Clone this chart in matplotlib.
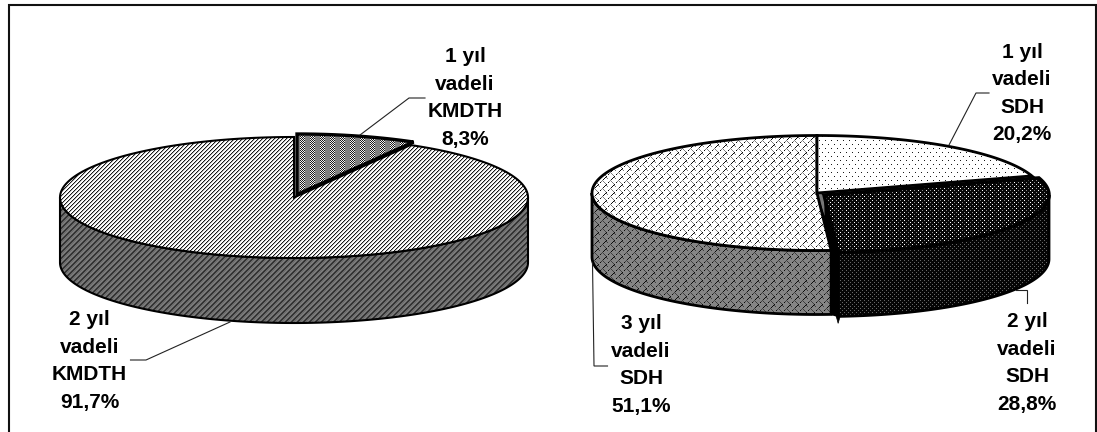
from matplotlib import pyplot as plt
from matplotlib.patches import Polygon
import numpy as np

# share of each maturity, going clockwise from the top of the pie
kmdth_names = ["1 yıl", "2 yıl"]
kmdth_shares = [8.3, 91.7]
sdh_names = ["1 yıl", "2 yıl", "3 yıl"]
sdh_shares = [20.2, 28.8, 51.1]

W = 1097
H = 432

plt.rcParams['font.family'] = ['Liberation Sans', 'DejaVu Sans']

fig = plt.figure(figsize=(W / 100, H / 100), dpi=100)
ax = fig.add_axes([0, 0, 1, 1])
ax.set_xlim(0, W)
ax.set_ylim(H, 0)
ax.axis('off')


def make_tile(rows, shades):
    return np.array([[shades[c] for c in r] for r in rows], dtype=float)


def repeat_tile(tile):
    ny = H // tile.shape[0] + 1
    nx = W // tile.shape[1] + 1
    return np.tile(tile, (ny, nx))[:H, :W]


diag_light = make_tile(["#g..", "g..#", "..#g", ".#g."],
                       {'#': 0.1, 'g': 0.7, '.': 1.0})
diag_dark = make_tile(["##mmlm", "#mmlm#", "mmlm##", "mlm##m", "lm##mm", "m##mml"],
                      {'#': 0.2, 'm': 0.42, 'l': 0.5})
stripes = make_tile(["#.#.#ggggg", ".#.#.ggggg"],
                    {'#': 0.1, '.': 0.95, 'g': 0.5})
dots_white = make_tile(["#.....", "......", "......", "......",
                        "...#..", "......", "......", "......"],
                       {'#': 0.1, '.': 1.0})
dots_dark = make_tile(["w...g...", "........", "..g...w.", "........"],
                      {'w': 1.0, 'g': 0.55, '.': 0.03})
dots_black = make_tile(["g...", "....", "..g.", "...."],
                       {'g': 0.4, '.': 0.02})
weave_rows = ["......#.", ".....#g.", "....#..g", "...#....",
              "..g.....", ".g.g....", "#...g...", ".....g.."]
weave_white = make_tile(weave_rows, {'#': 0.05, 'g': 0.5, '.': 1.0})
weave_gray = make_tile(weave_rows, {'#': 0.05, 'g': 0.25, '.': 0.52})


def top_points(cx, cy, rx, ry, t0, t1):
    t = np.radians(np.linspace(t0, t1, 200))
    return np.column_stack([cx + rx * np.sin(t), cy - ry * np.cos(t)])


def fill_shape(points, tile, lw=1.5, z=1):
    img = ax.imshow(repeat_tile(tile), cmap='gray', vmin=0, vmax=1, extent=(0, W, H, 0),
                    interpolation='nearest', aspect='auto', zorder=z)
    patch = Polygon(points, closed=True, facecolor='none', edgecolor='black',
                    linewidth=lw, joinstyle='miter', zorder=z + 0.5)
    ax.add_patch(patch)
    img.set_clip_path(patch)


def draw_wedge(cx, cy, rx, ry, t0, t1, tile, lw=1.5, z=1):
    arc = top_points(cx, cy, rx, ry, t0, t1)
    fill_shape(np.vstack([[cx, cy], arc]), tile, lw, z)


def draw_wall(cx, cy, rx, ry, depth, t0, t1, tile, lw=1.5, z=1):
    a = max(t0, 90)
    b = min(t1, 270)
    arc = top_points(cx, cy, rx, ry, a, b)
    low = arc[::-1] + [0, depth]
    fill_shape(np.vstack([arc, low]), tile, lw, z)


def draw_label(x, y, name, kind, share):
    txt = f"{name}\nvadeli\n{kind}\n{share:.1f}%".replace('.', ',')
    ax.text(x, y, txt, ha='center', va='center', fontsize=15, fontweight='bold',
            linespacing=1.56, color='black', zorder=10)


def draw_leader(xs, ys):
    ax.plot(xs, ys, color='#222222', linewidth=0.8, solid_joinstyle='miter', zorder=9)


# left pie
cx, cy, rx, ry, depth = 294, 197.5, 234, 60.5, 65
a1 = kmdth_shares[0] * 3.6
draw_wall(cx, cy, rx, ry, depth, a1, 360, diag_dark, z=1)
draw_wedge(cx, cy, rx, ry, a1, 360, diag_light, z=2)
draw_wedge(cx + 3, cy - 3, rx, ry, 0, a1, stripes, lw=2.4, z=3)

draw_label(465, 98, kmdth_names[0], "KMDTH", kmdth_shares[0])
draw_label(89.5, 361, kmdth_names[1], "KMDTH", kmdth_shares[1])
draw_leader([360, 409, 425], [135, 98, 98])
draw_leader([230, 146, 130.5], [322, 360, 360])

# right pie, the 2 yıl slice is pulled out a little
cx, cy, rx, ry, depth = 817, 193, 225, 57.5, 64
dx, dy = 7, 2
a1 = sdh_shares[0] * 3.6
a2 = a1 + sdh_shares[1] * 3.6
end = top_points(cx, cy, rx, ry, a2, a2)[0]
apex2 = np.array([cx + dx, cy + dy])
end2 = end + [dx, dy]

# dark gap between the slices, drawn before the slices in front of it
gap = [[cx, cy], apex2, end2, end2 + [0, depth], end + [0, depth], end]
ax.add_patch(Polygon(gap, closed=True, facecolor='black', edgecolor='black', zorder=1))
sliver = [[cx, cy], apex2, [cx + 0.4 * (end[0] - cx) + 2, cy + 0.4 * (end[1] - cy)]]
ax.add_patch(Polygon(sliver, closed=True, facecolor='#777777', edgecolor='none', zorder=1.2))
spike = [end2 + [-7, depth - 19], end2 + [0, depth + 7], end2 + [2, depth]]
ax.add_patch(Polygon(spike, closed=True, facecolor='black', edgecolor='black',
                     linewidth=0.5, zorder=1.2))

draw_wall(cx, cy, rx, ry, depth, a2, 360, weave_gray, lw=2, z=2)
draw_wedge(cx, cy, rx, ry, a2, 360, weave_white, lw=2, z=3)
draw_wedge(cx, cy, rx, ry, 0, a1, dots_white, lw=2, z=4)
draw_wall(cx + dx, cy + dy, rx, ry, depth, a1, a2, dots_black, lw=2, z=5)
draw_wedge(cx + dx, cy + dy, rx, ry, a1, a2, dots_dark, lw=2.5, z=6)

draw_label(1022, 93.5, sdh_names[0], "SDH", sdh_shares[0])
draw_label(1027, 363, sdh_names[1], "SDH", sdh_shares[1])
draw_label(641, 365, sdh_names[2], "SDH", sdh_shares[2])
draw_leader([949, 976, 989], [145, 93, 93])
draw_leader([1016, 1027, 1027], [290, 290, 303])
draw_leader([592.5, 594, 607.5], [263, 366, 366])

# frame, the picture is cut off before its bottom edge
ax.plot([9, 9, 1096, 1096], [H, 5, 5, H], color='#111111', linewidth=1.5,
        solid_joinstyle='miter', zorder=12)

fig.savefig('out.png', dpi=100)
